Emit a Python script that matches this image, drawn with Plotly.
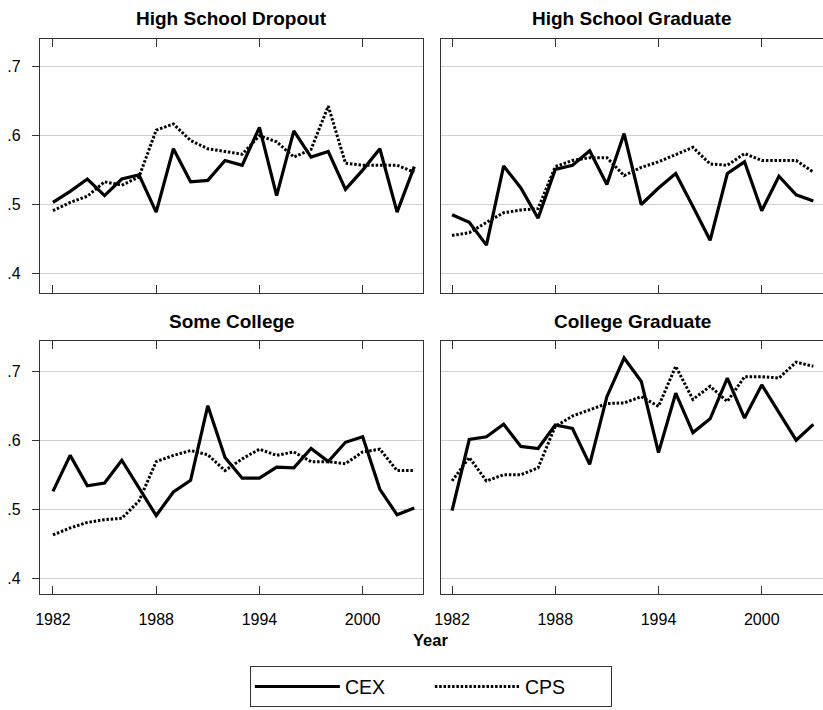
import plotly.graph_objects as go
from plotly.subplots import make_subplots

years = [1982, 1983, 1984, 1985, 1986, 1987, 1988, 1989, 1990, 1991, 1992,
         1993, 1994, 1995, 1996, 1997, 1998, 1999, 2000, 2001, 2002, 2003]

panel_titles = ["High School Dropout", "High School Graduate", "Some College", "College Graduate"]

cex_dropout = [0.503, 0.519, 0.537, 0.513, 0.537, 0.543, 0.489, 0.581, 0.533, 0.535, 0.564,
               0.557, 0.612, 0.513, 0.607, 0.569, 0.577, 0.522, 0.550, 0.581, 0.489, 0.555]
cps_dropout = [0.491, 0.503, 0.512, 0.533, 0.528, 0.540, 0.608, 0.617, 0.593, 0.581, 0.577,
               0.573, 0.600, 0.591, 0.569, 0.580, 0.643, 0.560, 0.557, 0.557, 0.557, 0.547]

cex_hsgrad = [0.485, 0.474, 0.441, 0.556, 0.524, 0.480, 0.551, 0.557, 0.578, 0.529, 0.603,
              0.500, 0.524, 0.545, 0.497, 0.448, 0.545, 0.562, 0.491, 0.541, 0.514, 0.505]
cps_hsgrad = [0.455, 0.459, 0.474, 0.488, 0.492, 0.494, 0.555, 0.564, 0.568, 0.568, 0.542,
              0.554, 0.562, 0.572, 0.583, 0.559, 0.557, 0.574, 0.564, 0.564, 0.564, 0.547]

cex_somecol = [0.526, 0.578, 0.534, 0.538, 0.571, 0.530, 0.491, 0.525, 0.542, 0.650, 0.575,
               0.545, 0.545, 0.561, 0.560, 0.588, 0.569, 0.597, 0.605, 0.529, 0.492, 0.502]
cps_somecol = [0.463, 0.473, 0.481, 0.485, 0.487, 0.512, 0.569, 0.578, 0.585, 0.579, 0.556,
               0.573, 0.587, 0.578, 0.583, 0.569, 0.569, 0.566, 0.583, 0.587, 0.556, 0.556]

cex_colgrad = [0.498, 0.601, 0.605, 0.623, 0.591, 0.588, 0.622, 0.617, 0.565, 0.663, 0.719,
               0.685, 0.582, 0.668, 0.611, 0.631, 0.690, 0.632, 0.680, 0.640, 0.600, 0.623]
cps_colgrad = [0.541, 0.575, 0.541, 0.550, 0.550, 0.560, 0.620, 0.635, 0.644, 0.653, 0.654,
               0.663, 0.649, 0.707, 0.659, 0.678, 0.656, 0.692, 0.692, 0.690, 0.713, 0.707]

x_tickvals = [1982, 1988, 1994, 2000]
x_ticktext = ["1982", "1988", "1994", "2000"]
y_tickvals = [0.4, 0.5, 0.6, 0.7]
y_ticktext = [".4", ".5", ".6", ".7"]

series = [(cex_dropout, cps_dropout), (cex_hsgrad, cps_hsgrad),
          (cex_somecol, cps_somecol), (cex_colgrad, cps_colgrad)]

W, H = 823, 710
FONT = "Liberation Sans, Arial, Helvetica, sans-serif"
FRAME = "#333333"

fig = make_subplots(rows=2, cols=2)

for i, (cex, cps) in enumerate(series):
    r, c = i // 2 + 1, i % 2 + 1
    fig.add_trace(go.Scatter(x=years, y=cex, mode="lines", name="CEX",
                             line=dict(color="black", width=3.2),
                             showlegend=(i == 0), legendgroup="cex"), row=r, col=c)
    fig.add_trace(go.Scatter(x=years, y=cps, mode="lines", name="CPS",
                             line=dict(color="black", width=3, dash="2.5px,1.8px"),
                             showlegend=(i == 0), legendgroup="cps"), row=r, col=c)

# panel geometry (pixels)
left_px = (34.3, 420.3)
right_px = (437.7, 823.0)
top_px = (39.3, 293.3)
bot_px = (340.7, 594.3)

def xd(p):
    return [p[0] / W, min(p[1] / W, 1.0)]

def yd(p):
    return [1 - p[1] / H, 1 - p[0] / H]

xranges = {1: [1981.25, 2003.52], 2: [1981.33, 2003.56]}
yranges = {1: [0.371, 0.740], 2: [0.377, 0.744]}

for i in range(4):
    r, c = i // 2 + 1, i % 2 + 1
    fig.update_xaxes(row=r, col=c,
                     domain=xd(left_px if c == 1 else right_px),
                     range=xranges[c], tickvals=x_tickvals, ticktext=x_ticktext,
                     ticks="inside", ticklen=8, tickwidth=1.3, tickcolor=FRAME,
                     showline=True, linecolor=FRAME, linewidth=1.3, mirror="ticks",
                     showgrid=False, zeroline=False,
                     showticklabels=(r == 2),
                     tickfont=dict(family=FONT, size=16, color="black"),
                     ticklabelstandoff=10)
    fig.update_yaxes(row=r, col=c,
                     domain=yd(top_px if r == 1 else bot_px),
                     range=yranges[r], tickvals=y_tickvals, ticktext=y_ticktext,
                     ticks="outside" if c == 1 else "", ticklen=7, tickwidth=1.3,
                     tickcolor=FRAME,
                     showline=True, linecolor=FRAME, linewidth=1.3,
                     mirror=(c == 1),
                     showgrid=True, gridcolor="#d0d0d0", gridwidth=1.2, zeroline=False,
                     showticklabels=(c == 1),
                     tickfont=dict(family=FONT, size=16, color="black"),
                     ticklabelstandoff=8)

annotations = []
title_y = {1: 1 - 19 / H, 2: 1 - 321 / H}
for i, t in enumerate(panel_titles):
    r, c = i // 2 + 1, i % 2 + 1
    px = left_px if c == 1 else (437.7, 823.7)
    annotations.append(dict(text=f"<b>{t}</b>", x=(px[0] + px[1]) / 2 / W, y=title_y[r],
                            xref="paper", yref="paper", xanchor="center", yanchor="middle",
                            showarrow=False, font=dict(family=FONT, size=19, color="black")))
annotations.append(dict(text="<b>Year</b>", x=428 / W, y=1 - 640 / H, xref="paper", yref="paper",
                        xanchor="center", yanchor="middle", showarrow=False,
                        font=dict(family=FONT, size=16.5, color="black")))

fig.update_layout(
    width=W, height=H,
    margin=dict(l=0, r=0, t=0, b=0),
    paper_bgcolor="white", plot_bgcolor="white",
    font=dict(family=FONT, color="black"),
    annotations=annotations,
    showlegend=True,
    legend=dict(orientation="h", x=428 / W, xanchor="center", y=1 - 666 / H, yanchor="top",
                bordercolor=FRAME, borderwidth=1.3, bgcolor="white",
                font=dict(family=FONT, size=19.5, color="black"),
                entrywidth=80, itemwidth=85),
)

fig.write_html("out.html", config={"displayModeBar": False},
               post_script="document.body.style.margin='0';document.body.style.overflow='hidden';")
